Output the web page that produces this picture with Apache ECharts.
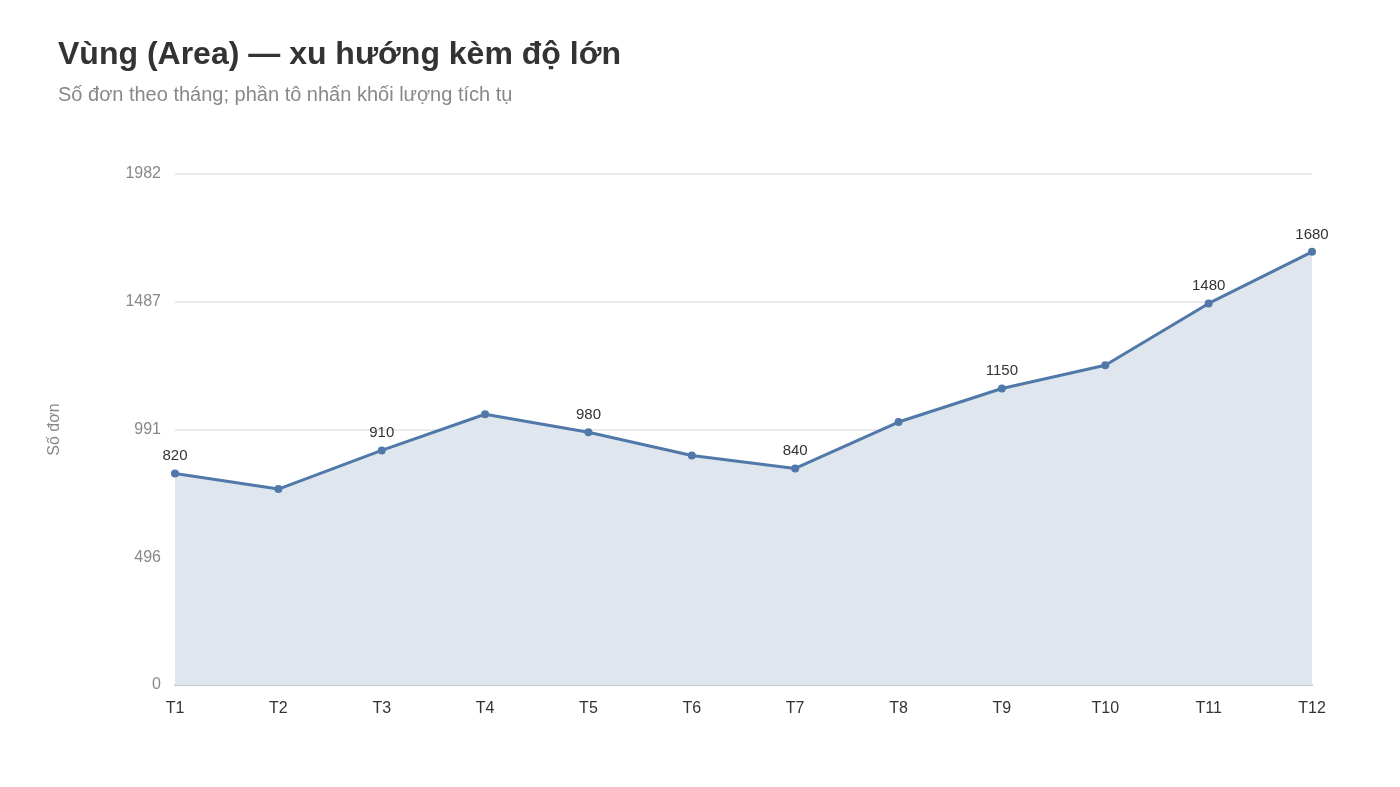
<!DOCTYPE html>
<html>
<head>
<meta charset="utf-8">
<script src="https://cdn.jsdelivr.net/npm/echarts@6/dist/echarts.min.js"></script>
<style>
html, body { margin: 0; padding: 0; background: #fff; }
#chart { width: 1400px; height: 787px; }
</style>
</head>
<body>
<div id="chart"></div>
<script>
// dữ liệu
const months = ['T1','T2','T3','T4','T5','T6','T7','T8','T9','T10','T11','T12'];
const orders = [820, 760, 910, 1050, 980, 890, 840, 1020, 1150, 1240, 1480, 1680];
const yMax = 1982;

const chart = echarts.init(document.getElementById('chart'));

// nhãn chỉ hiện ở điểm chẵn và điểm cuối
const seriesData = orders.map(function (v, i) {
    return {
        value: v,
        label: { show: i % 2 === 0 || i === orders.length - 1 }
    };
});

const option = {
    backgroundColor: '#fff',
    textStyle: { fontFamily: 'Liberation Sans, Arial, sans-serif' },
    title: {
        text: 'Vùng (Area) — xu hướng kèm độ lớn',
        subtext: 'Số đơn theo tháng; phần tô nhấn khối lượng tích tụ',
        left: 53,
        top: 34,
        itemGap: 14,
        textStyle: { fontSize: 32, fontWeight: 'bold', color: '#333' },
        subtextStyle: { fontSize: 20, color: '#888' }
    },
    grid: { left: 175, right: 88, top: 174, bottom: 102 },
    xAxis: {
        type: 'category',
        data: months,
        boundaryGap: false,
        axisLine: { lineStyle: { color: '#c4c8d0', width: 2 } },
        axisTick: { show: false },
        axisLabel: { color: '#333', fontSize: 16, margin: 16 }
    },
    yAxis: {
        type: 'value',
        name: 'Số đơn',
        nameLocation: 'middle',
        nameGap: 112,
        nameTextStyle: { color: '#888', fontSize: 16 },
        min: 0,
        max: yMax,
        interval: yMax / 4,
        axisLine: { show: false },
        axisTick: { show: false },
        axisLabel: {
            color: '#888',
            fontSize: 16,
            margin: 14,
            formatter: function (v) { return Math.round(v); }
        },
        splitLine: { lineStyle: { color: '#e3e3e3', width: 1.5 } }
    },
    series: [{
        type: 'line',
        data: seriesData,
        symbol: 'circle',
        symbolSize: 8,
        lineStyle: { color: '#5079aa', width: 3 },
        itemStyle: { color: '#5079aa' },
        areaStyle: { color: '#dfe6ee', opacity: 1 },
        label: { position: 'top', color: '#333', fontSize: 15, distance: 6 }
    }]
};

chart.setOption(option);
</script>
</body>
</html>
